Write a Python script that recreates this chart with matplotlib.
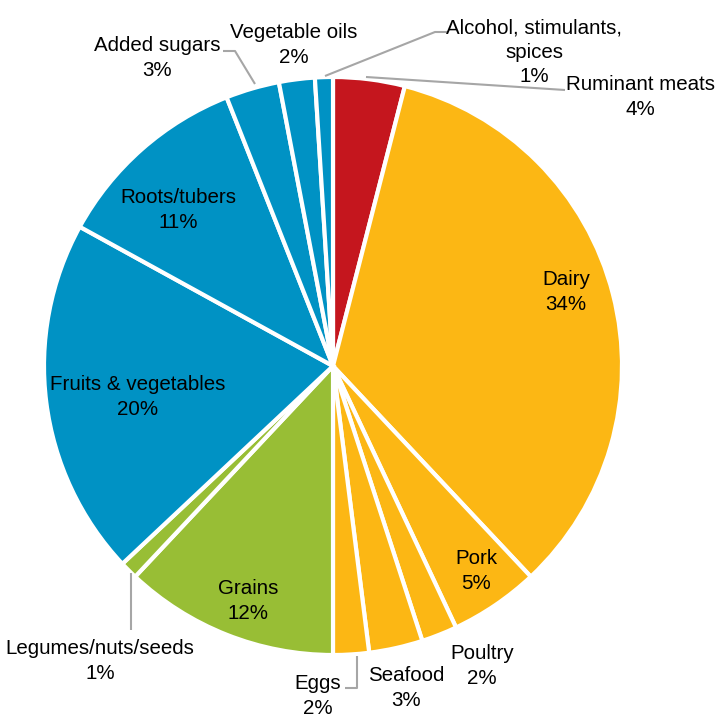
import matplotlib
matplotlib.use("Agg")
import matplotlib.pyplot as plt
from matplotlib import font_manager

# Share of each food group (percent), clockwise from 12 o'clock
categories = ["Ruminant meats", "Dairy", "Pork", "Poultry", "Seafood", "Eggs",
              "Grains", "Legumes/nuts/seeds", "Fruits & vegetables",
              "Roots/tubers", "Added sugars", "Vegetable oils",
              "Alcohol, stimulants,\nspices"]
values = [4, 34, 5, 2, 3, 2, 12, 1, 20, 11, 3, 2, 1]
groups = ["meat", "animal", "animal", "animal", "animal", "animal",
          "grain", "grain", "plant", "plant", "plant", "plant", "plant"]

palette = {"meat": "#C5161E", "animal": "#FCB714",
           "grain": "#98BE35", "plant": "#0092C4"}

W, H = 716, 719
fig = plt.figure(figsize=(W / 100, H / 100), dpi=100)
ax = fig.add_axes([0, 0, 1, 1])

names = {f.name for f in font_manager.fontManager.ttflist}
if "Liberation Sans Narrow" in names:
    family, fpx, lsp = "Liberation Sans Narrow", 23.0, 1.15
else:
    family, fpx, lsp = "Liberation Sans", 20.5, 1.36
fs = fpx * 72 / 100

cx, cy, r = 333, 366, 289
# y axis is inverted, so counterclock=True runs clockwise on screen
wedges, _ = ax.pie(values, colors=[palette[g] for g in groups],
                   startangle=-90, counterclock=True, center=(cx, cy),
                   radius=r, frame=True,
                   wedgeprops=dict(edgecolor="white", linewidth=3))
ax.set_xlim(0, W)
ax.set_ylim(H, 0)
ax.set_aspect("equal")
ax.axis("off")

labels = {
    "Ruminant meats": (640, 97),
    "Dairy": (566, 292),
    "Pork": (476, 571),
    "Poultry": (482, 666),
    "Seafood": (406, 688),
    "Eggs": (318, 696),
    "Grains": (248, 601),
    "Legumes/nuts/seeds": (100, 661),
    "Fruits & vegetables": (138, 397),
    "Roots/tubers": (178, 210),
    "Added sugars": (157, 58),
    "Vegetable oils": (294, 45),
    "Alcohol, stimulants,\nspices": (534, 52),
}
for name, v in zip(categories, values):
    x, y = labels[name]
    ax.text(x, y, f"{name}\n{v}%", ha="center", va="center",
            fontsize=fs, family=family, color="black", linespacing=lsp)

leaders = [
    [(366, 77), (565, 90)],
    [(325, 76), (435, 32), (448, 32)],
    [(255, 84), (235, 51), (223, 51)],
    [(131, 573), (131, 630)],
    [(357, 656), (357, 688), (345, 688)],
]
for pts in leaders:
    xs, ys = zip(*pts)
    ax.plot(xs, ys, color="#A6A6A6", linewidth=1.5, solid_capstyle="butt")

fig.savefig("out.png", dpi=100, facecolor="white")
